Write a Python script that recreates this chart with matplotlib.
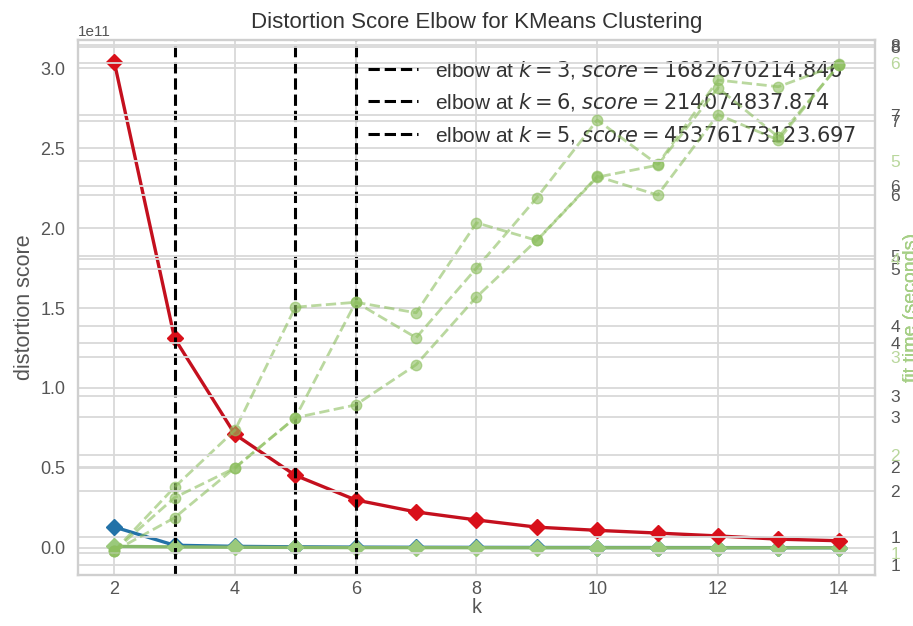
import matplotlib
matplotlib.use("Agg")
import matplotlib.pyplot as plt
import numpy as np

# k values and distortion scores (units of 1e11) for the three KMeans runs
k_values = list(range(2, 15))
distortion_blue = [0.131, 0.0168, 0.010, 0.007, 0.005, 0.004, 0.0035, 0.003, 0.0027, 0.0024, 0.0021, 0.0019, 0.0017]
distortion_green = [0.010, 0.0065, 0.0045, 0.0032, 0.00214, 0.0019, 0.0017, 0.0015, 0.0014, 0.0013, 0.0012, 0.0011, 0.0010]
distortion_red = [3.04, 1.31, 0.71, 0.4538, 0.30, 0.225, 0.175, 0.13, 0.11, 0.093, 0.075, 0.055, 0.045]

# fit times (seconds), one twin axis per run
time_a = [0.80, 1.71, 2.52, 4.27, 4.34, 4.19, 5.47, 5.22, 6.12, 6.29, 7.39, 6.69, 7.71]
time_b = [1.19, 1.91, 2.31, 2.99, 4.55, 4.07, 5.01, 5.96, 7.01, 6.41, 7.55, 7.46, 7.76]
time_c = [1.02, 1.36, 1.87, 2.38, 2.51, 2.92, 3.61, 4.19, 4.84, 4.65, 5.47, 5.21, 5.98]

elbow_k = [3, 6, 5]
elbow_scores = ["1682670214.846", "214074837.874", "45376173123.697"]

plt.rcParams['font.family'] = ['Liberation Sans', 'DejaVu Sans']
plt.rcParams['mathtext.fontset'] = 'dejavusans'

GRID = '#d9d9d9'
TEXT = '#555555'
TIME_GREEN = '#8dbf5f'

fig = plt.figure(figsize=(9.13, 6.26), dpi=100)
ax = fig.add_axes([0.0854, 0.0815, 0.873, 0.8545])


def style_axes(a):
    a.set_facecolor('none')
    a.grid(True, color=GRID, linewidth=1.3)
    a.set_axisbelow(True)
    for s in a.spines.values():
        s.set_color('#cfcfcf')
        s.set_linewidth(1.5)
    a.tick_params(length=0)


ax.set_facecolor('white')
style_axes(ax)

dist_scale = 1e11
runs = [
    (distortion_blue, '#2372a8', '#2372a8', time_a, (0.46, 8.07), range(1, 9), TEXT),
    (distortion_green, '#86b86a', '#9ac97b', time_b, (0.865, 8.09), range(1, 9), TEXT),
    (distortion_red, '#c4101e', '#d9101a', time_c, (0.776, 6.23), range(1, 7), '#b9d79c'),
]

for i, (dist, lc, mc, times, tlim, tticks, tcol) in enumerate(runs):
    ax.plot(k_values, np.array(dist) * dist_scale, color=lc, marker='D', markersize=8,
            markerfacecolor=mc, markeredgecolor=mc, linewidth=2.4, zorder=3 + i)
    ax.axvline(elbow_k[i], color='black', linestyle='--', linewidth=2.2, zorder=6,
               label='elbow at $k=%d$, $score=%s$' % (elbow_k[i], elbow_scores[i]))

    tax = ax.twinx()
    style_axes(tax)
    tax.plot(k_values, times, color=TIME_GREEN, marker='o', markersize=7.5,
             linestyle='--', linewidth=2, alpha=0.6)
    tax.set_ylim(*tlim)
    tax.set_yticks(list(tticks))
    tax.tick_params(axis='y', labelsize=12.5, labelcolor=tcol, pad=11)
    tax.set_ylabel('fit time (seconds)', color='#a6cf86', fontsize=14, labelpad=2)

ax.set_xlim(1.4, 14.6)
ax.set_ylim(-0.169 * dist_scale, 3.175 * dist_scale)
ax.set_yticks(np.arange(0, 3.01, 0.5) * dist_scale)
ax.set_xticks([2, 4, 6, 8, 10, 12, 14])
ax.tick_params(axis='y', labelsize=13, labelcolor=TEXT, pad=9)
ax.tick_params(axis='x', labelsize=13, labelcolor=TEXT, pad=4)
ax.yaxis.get_offset_text().set_fontsize(11)
ax.yaxis.get_offset_text().set_color(TEXT)

ax.set_title('Distortion Score Elbow for KMeans Clustering', fontsize=16, color='#333333', pad=9)
ax.set_xlabel('k', fontsize=14.5, color=TEXT, labelpad=0)
ax.set_ylabel('distortion score', fontsize=15.5, color=TEXT, labelpad=4)

leg = ax.legend(loc='upper right', fontsize=15, frameon=False, handlelength=2.4,
                labelspacing=0.5, borderaxespad=0.5)
for t in leg.get_texts():
    t.set_color('#333333')

fig.savefig('out.png', dpi=100)
